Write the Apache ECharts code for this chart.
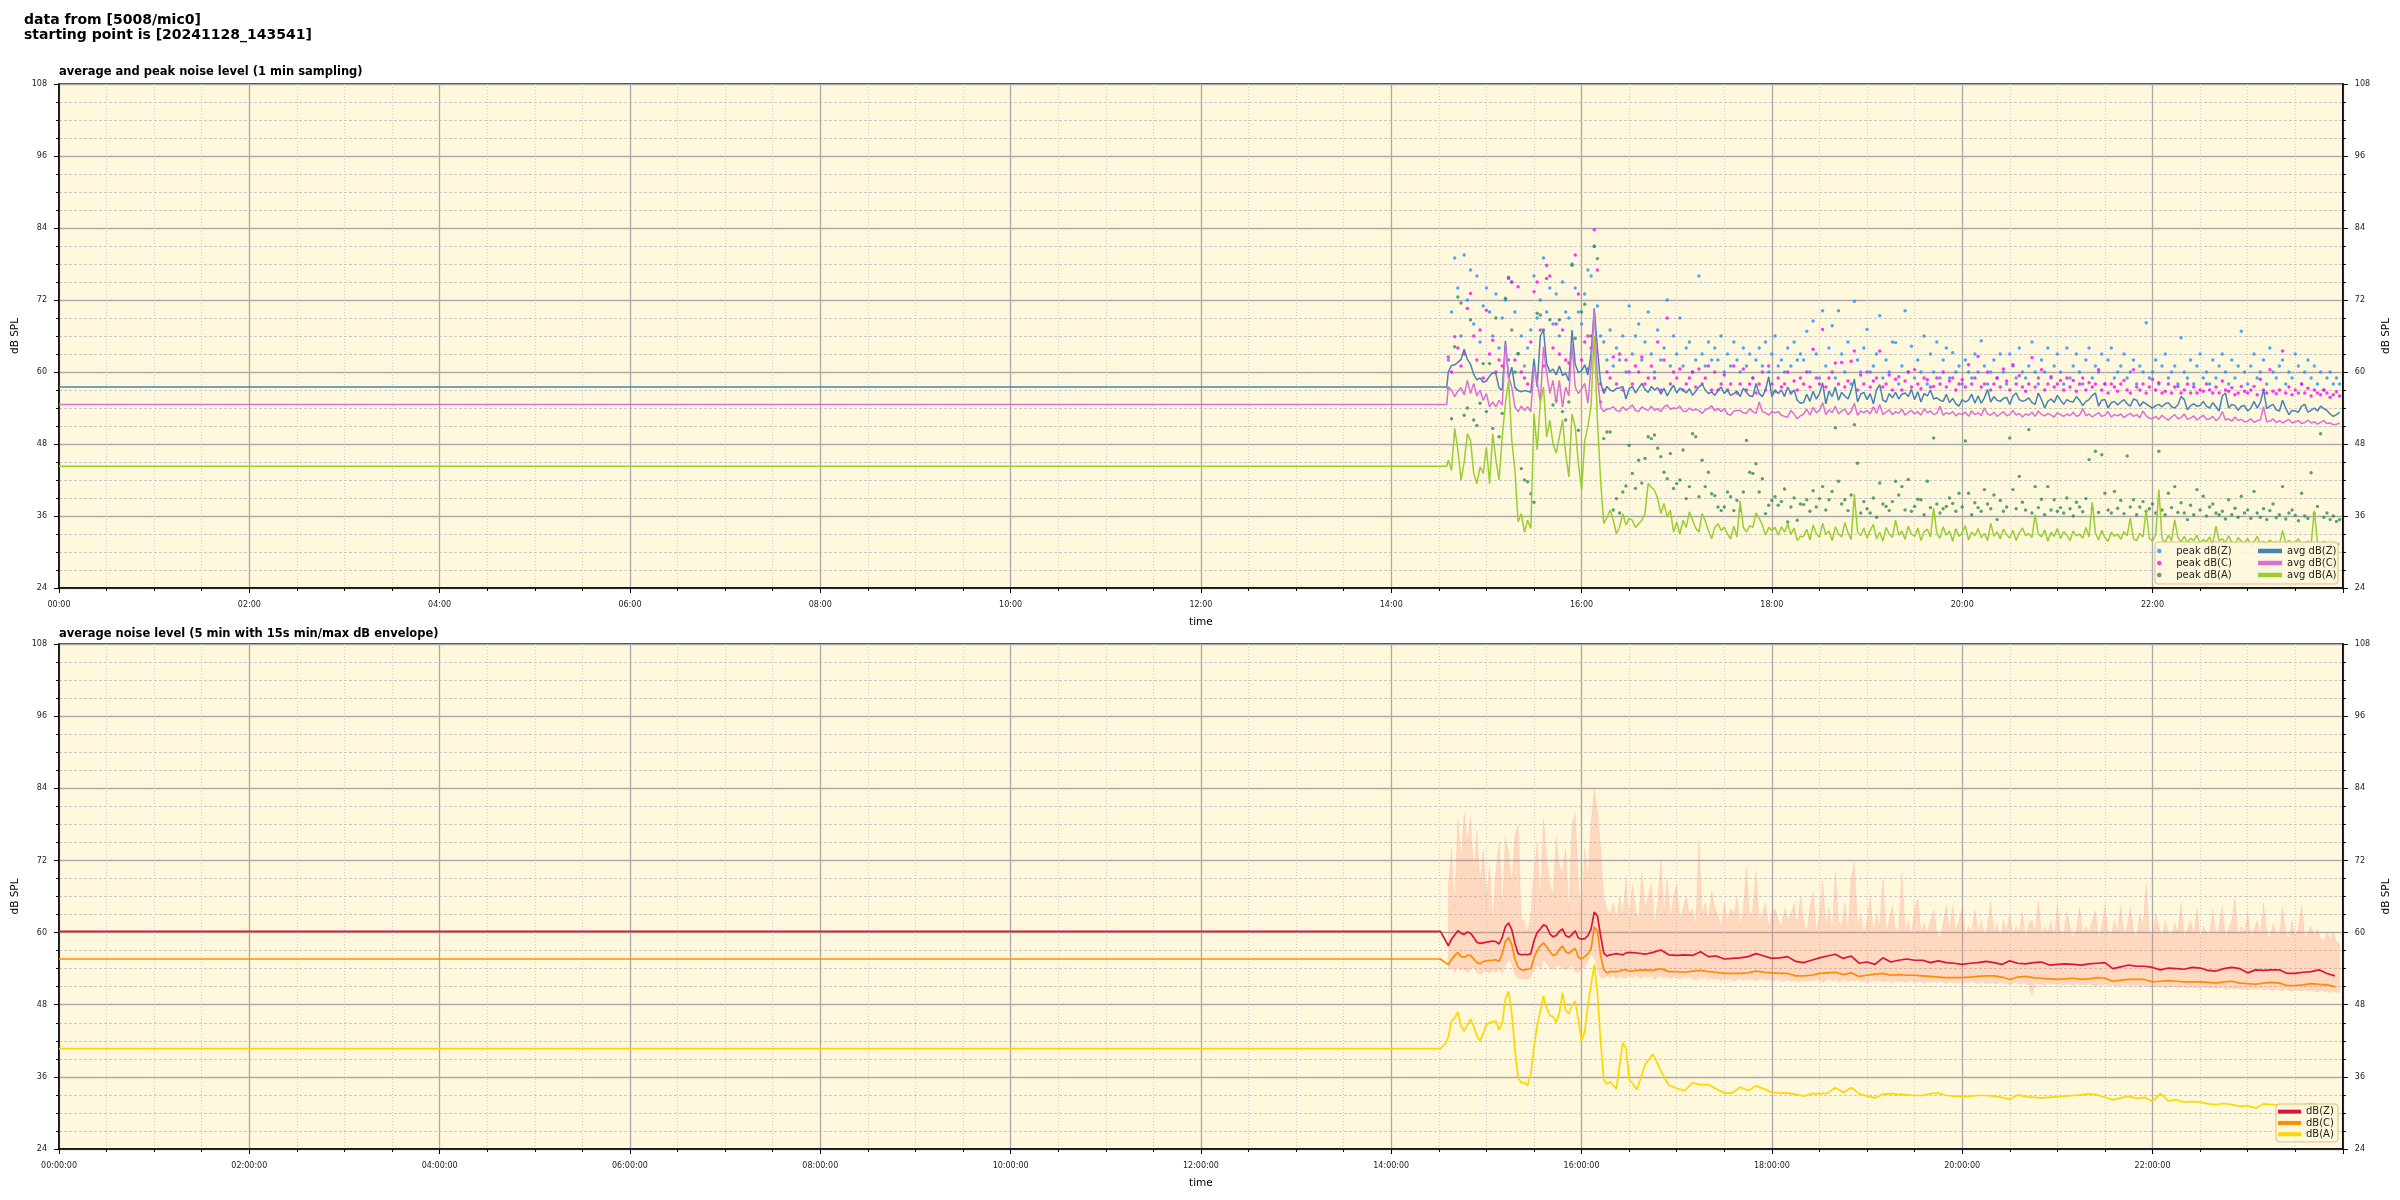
<!DOCTYPE html>
<html><head><meta charset="utf-8">
<script src="https://cdn.jsdelivr.net/npm/echarts@6/dist/echarts.min.js"></script>
<style>html,body{margin:0;padding:0;background:#fff}#c{width:2400px;height:1200px}</style>
</head><body><div id="c"></div>
<script>
// ================= DATA =================
const yTickValues = [24, 36, 48, 60, 72, 84, 96, 108];
const xTickHours = [0, 2, 4, 6, 8, 10, 12, 14, 16, 18, 20, 22];

// ---- top chart: 1-min sampling, shown every 2 min from 14:36 ----
const topFlatEnd = "14:35";
const avgZFlat = 57.5, avgCFlat = 54.6, avgAFlat = 44.3;
const topStart = "14:36";
const topStepMin = 2;

const avgZ = [
60.0,61.1,61.2,61.6,62.1,63.8,62.1,61.3,59.6,58.7,59.0,58.3,
58.5,59.3,59.9,59.7,57.3,57.0,65.2,58.9,60.8,57.4,56.9,56.7,
56.9,56.8,56.6,62.2,57.5,66.0,67.0,61.4,60.0,60.5,59.5,61.0,
59.4,59.8,58.5,67.0,61.3,59.9,60.2,61.2,59.5,63.0,70.6,64.0,
58.2,56.4,57.6,57.0,56.8,57.3,57.3,57.6,55.5,57.2,57.6,56.5,
57.3,58.1,57.1,56.6,57.6,57.0,57.4,56.3,57.3,56.0,57.0,57.8,
56.5,57.3,57.0,56.5,57.2,56.1,56.8,57.5,58.0,57.0,56.4,56.7,
56.1,56.9,57.5,56.4,57.0,56.1,56.4,56.8,55.9,57.3,56.6,56.0,
55.9,58.1,56.4,55.9,57.0,59.2,55.9,57.0,56.4,57.0,55.9,57.5,56.4,57.0,55.3,54.8,
54.9,56.3,55.1,56.8,55.5,56.4,58.2,54.7,56.8,55.9,
57.5,55.3,56.6,56.0,55.5,56.9,58.8,55.0,56.3,56.6,
55.4,56.4,54.7,57.0,57.9,55.3,55.0,56.4,55.7,56.6,
55.5,56.3,56.5,55.9,57.1,55.4,56.7,55.0,56.4,56.0,
57.0,55.5,55.7,55.3,55.1,56.3,54.9,55.6,54.7,54.3,
55.4,55.0,55.3,56.3,54.8,56.0,54.8,55.7,57.1,55.0,
55.9,55.3,55.1,55.6,55.8,54.6,56.0,56.5,55.4,55.1,
55.3,55.7,54.9,54.6,56.5,55.4,54.0,55.1,55.5,54.9,
56.1,55.3,54.6,55.4,55.1,55.0,55.9,55.3,54.4,55.1,
55.4,56.1,56.5,54.3,55.3,55.4,54.0,54.9,55.1,54.5,
55.0,55.4,54.7,54.3,55.5,55.3,54.3,55.0,54.7,54.3,
54.0,54.4,54.6,54.2,54.7,54.9,54.2,54.0,54.5,55.9,
55.4,53.7,54.4,54.7,54.3,54.4,55.1,54.3,54.0,54.9,
54.2,53.5,56.0,56.5,54.0,54.6,54.4,53.6,54.3,54.4,
53.5,54.0,55.1,54.0,54.9,57.1,53.9,54.3,54.6,53.7,
53.5,55.3,54.0,52.9,53.6,53.5,53.3,54.3,54.6,53.3,
53.6,54.0,53.5,54.3,53.9,53.6,53.0,52.6,52.9,53.3
];
const avgC = [
57.5,57.0,55.9,56.8,57.4,56.2,58.6,56.4,58.1,56.0,57.0,55.3,
56.4,54.2,55.0,54.2,55.3,54.5,64.8,59.2,57.5,54.2,53.4,54.3,
53.6,54.2,53.4,60.9,58.4,55.0,64.2,59.8,56.4,58.6,54.8,58.6,
54.2,57.5,56.0,64.8,57.5,56.4,57.2,58.1,54.8,60.9,70.3,59.2,
54.2,53.4,53.8,53.9,54.2,53.6,53.4,54.2,53.6,54.0,54.5,53.6,
53.4,54.2,53.8,53.6,54.3,53.6,53.9,53.4,54.2,54.5,53.8,54.0,
53.9,54.3,53.5,53.4,54.0,53.6,53.8,53.6,53.1,53.7,53.9,54.4,
53.5,53.9,53.4,53.9,53.0,52.8,53.5,53.6,53.6,53.2,53.1,53.9,
53.4,53.1,55.0,53.4,53.2,52.8,53.4,53.2,53.4,52.8,52.6,52.5,53.6,53.0,52.2,52.7,
53.0,53.8,52.8,54.1,53.2,53.6,54.9,52.9,53.7,53.2,
54.3,53.0,53.5,53.8,52.9,53.4,54.8,52.8,53.5,53.2,
53.6,53.0,54.2,53.1,54.6,52.9,53.3,53.7,52.9,53.4,
53.1,53.8,52.8,53.3,53.6,53.0,53.4,52.8,53.9,53.2,
53.5,52.9,53.1,54.3,52.8,53.2,53.0,53.4,52.7,53.1,
52.9,53.3,52.6,53.5,52.9,53.2,52.7,54.0,53.0,52.8,
53.3,52.6,53.0,53.4,52.7,52.9,53.6,52.8,53.1,52.5,
53.0,52.8,53.3,52.6,53.5,52.9,52.7,53.1,52.8,52.5,
53.2,52.9,52.6,53.0,52.7,53.3,52.6,52.8,53.9,52.7,
53.0,52.5,52.9,53.2,52.6,52.8,53.4,52.5,52.9,52.7,
53.0,52.4,52.8,53.1,52.6,52.9,52.4,53.5,52.7,52.3,
52.2,52.6,52.1,52.8,52.3,52.0,52.5,52.9,52.2,52.4,
53.0,52.1,52.3,52.7,52.0,52.4,52.8,52.1,52.2,52.6,
51.9,52.3,53.4,52.0,52.2,51.8,52.5,51.9,52.1,51.7,
51.8,52.2,51.6,51.9,52.0,54.2,51.7,51.8,52.2,51.6,
51.9,51.5,51.8,52.1,51.5,51.7,51.9,51.4,51.6,52.0,
51.5,51.7,51.3,51.6,51.9,51.4,51.5,51.2,51.3,51.5
];
const avgA = [
45.3,43.6,50.6,47.0,42.0,45.0,49.7,48.6,43.1,41.4,44.2,43.1,
47.5,41.4,49.7,45.3,42.0,49.2,54.8,58.6,48.6,43.6,35.0,36.4,
33.3,35.3,33.9,53.1,47.0,55.0,57.5,49.2,52.0,48.0,46.5,49.2,
52.0,46.4,42.5,53.0,50.9,44.7,40.3,48.6,50.9,54.5,66.0,52.0,
42.0,34.7,35.8,37.0,35.3,33.0,34.2,36.4,34.5,35.6,35.3,34.1,
34.7,35.3,36.4,41.4,40.8,40.3,38.9,36.4,38.1,35.8,37.0,33.3,
35.0,33.0,35.3,34.1,36.7,35.3,34.0,33.3,36.4,35.2,33.6,32.2,
34.1,34.7,33.6,34.1,33.0,32.2,34.3,32.5,38.5,34.1,33.3,34.4,
34.1,36.5,35.6,34.5,32.8,34.1,33.6,34.1,32.8,34.2,33.3,34.7,32.9,34.0,31.9,32.6,
32.6,33.8,32.0,34.5,33.1,32.4,34.8,32.9,33.5,31.9,
34.2,33.0,32.5,34.9,33.2,32.1,39.6,33.4,32.7,34.0,
32.3,33.6,34.6,32.2,33.3,31.8,34.1,33.0,32.4,35.3,
32.8,33.5,32.1,34.3,33.0,32.6,34.0,31.9,33.4,33.8,
32.5,37.3,33.1,32.3,34.2,32.8,33.5,31.8,33.9,32.6,
33.2,34.4,32.0,33.3,32.7,33.9,32.4,33.1,31.9,34.8,
32.6,33.4,32.2,33.8,32.9,32.3,33.6,31.9,33.2,34.0,
32.7,33.1,32.4,36.2,33.0,32.5,33.7,31.8,33.3,32.6,
33.9,32.2,33.4,32.8,31.9,33.5,32.7,33.0,32.3,34.1,
32.5,38.3,33.2,32.0,33.6,32.4,31.8,33.3,32.6,33.0,
32.1,33.4,32.7,35.7,32.2,31.9,33.1,32.5,37.0,32.3,
31.8,32.9,40.4,32.2,31.6,32.8,31.9,35.4,32.4,31.7,
32.6,31.5,32.3,31.9,32.8,31.4,32.1,31.7,32.5,31.3,
34.3,31.9,32.2,31.5,32.7,31.6,31.2,32.4,31.8,31.4,
32.3,31.1,31.7,32.6,31.3,31.8,31.2,32.0,31.5,31.7,
31.2,33.6,31.4,31.9,31.3,31.6,32.2,31.1,31.5,31.8,
31.2,36.9,31.6,31.0,31.8,31.3,31.1,31.6,31.4,31.3
];
const peakZ = [
62,70,79,74,66,79.5,72,77,68,76,65,71,
74,70,66,73,64,69,72,62,75,70,63,66,
61,64,67,76,69,72,79,70,74,68,73,66,
75,70,69,78,74,70,68,73,77,76,81,71,
66,65,62,67,61,64,62,66,60,71,63,66,
68,62,65,70,63,60,67,62,64,72,61,66,
63,69,61,64,65,60,62,76,63,61,65,62,
64,62,66,60,63,61,65,62,60,64,61,63,
59,62,64,61,65,60,63,66,61,62,60,64,61,65,62,63,
62,66.8,60,68.5,63,59,70.2,61,64,67.7,
59,70.2,63,60,65,58,71.8,62,60,64,
67.1,60,61,63,69.4,59,62,60,65,64.9,
58,61,70.2,60,64.3,59,62,60,66,58,
63,60,65,59,62,64,59,63.2,60,61,
58,62,60,59,63,60,65.2,61,58,60,
62,59,63,60,58,63,61,59,64,60,
59,61,65,60,58,62,60,64,59,61,
63,60,58,64,59,61,63,60,58,62,
64,59,61,60,63,58,62,64,59,60,
61,63,59,60,62,58,61,60,68.2,59,
60,62,58,61,63,59,60,61,58,65.7,
60,59,62,58,61,63,59,60,58,62,
59,61,63,60,58,62,59,61,66.8,60,
58,61,63,59,60,62,58,64,60,59,
61,62,58,60,59,63,61,58,60,62,
59,61,58,60,57,59,60,58,59,58
];
const peakC = [
62.5,60,65.9,64,61,63,70.6,73.1,66,62,67,59,
70.3,63,65.3,60,62,61,64,75.8,75,62,74.2,60,
59,58,65,73.4,75,67,61,77.8,76,64,68,63,
67,62,61.5,63,79.5,73,62,65,66,64,83.7,77,
58,57,60,59,62.5,58,63,57,62,60,58,61,
60,62.5,58,59,61,59,65,57,62,69,58,60,
59,60.5,57,58,59,60,57.5,60.5,58,59,61,57,
60,57,58,59.5,57,58,61,56.5,58,60.5,57,58,
59,56.5,58,60,57,61,58,56.8,59,57.5,58,60,56.5,58.5,57,59,
58,60,57.5,63.8,59,58,67.1,57.5,59,60,
61.5,58,61.6,57.5,58.5,61.8,63.5,57,59.5,58,
60,57.5,58.5,59,63.5,57.5,58,59.5,57,58.8,
59.2,57,58.5,60,57.5,60.4,58,57.2,59,58.7,
57.5,57.6,59,58,60,57.5,58.5,59,57,58,
58.7,57.5,61.2,58,59,62.6,57.5,58,60,57,
58,59,57.5,60.5,58.5,57,61.2,58,59.4,57.5,
56.8,58,62.4,57.5,59,60.4,57,58,59.2,57.5,
58,58.6,57,59,57.5,58.6,56.8,58,59,57,
58.2,57.5,58,60.4,57,58,56.5,58,57.5,56.8,
58,58.6,57,56.5,60.4,57.5,57,58,56.5,57.5,
58.8,57,58.2,56.5,56.8,58,56.5,57.5,57.6,56.5,
57,58,56.5,57.5,56.5,57,56.8,58,57,56.5,
57.5,56.5,58.5,57,56.8,57.4,56.2,56.5,57.6,56.8,
56.5,57,57.6,56.2,58.8,57,56.5,60.4,56.8,56.4,
57,63.5,56.5,57.5,56.2,57,56.5,58,56.5,57.3,
56,57,56.5,56.2,57,56.5,55.8,56.2,56.7,56
];
const peakA = [
57.3,52.2,64.2,72.5,71.5,52.8,54.0,68.7,52.0,51.1,54.8,61.4,
53.4,61.4,50.6,69.0,49.2,53.1,72.3,75.6,67.0,60.0,63.1,43.9,
42.0,41.7,39.7,38.3,69.8,69.5,67.0,75.6,68.7,54.5,55.3,68.7,
53.4,52.0,55.0,77.8,65.6,50.3,70.0,71.3,60.5,66.0,80.9,78.9,
55.0,48.9,50.0,50.0,37.0,38.9,36.5,40.0,41.0,47.8,43.1,40.6,
45.3,41.5,45.6,49.2,48.9,49.5,47.3,45.9,43.3,42.2,46.4,40.6,
41.4,42.0,47.0,38.9,40.9,49.7,49.2,39.2,45.3,40.9,43.3,39.7,
39.4,37.5,36.9,37.5,40.0,39.2,36.9,38.6,36.9,40.0,48.6,43.3,
43.1,44.7,40.0,42.2,36.4,37.8,38.6,39.2,37.8,38.4,40.5,35.0,37.5,39.0,35.3,38.0,
37.9,38.7,36.8,40.2,37.5,38.9,40.9,37.0,38.7,40.1,
50.7,41.8,38.0,38.7,36.9,39.5,51.2,44.8,36.5,38.4,
37.2,36.5,39.0,35.8,41.5,38.0,37.6,36.9,38.4,41.8,
39.5,40.9,37.0,42.1,36.8,37.6,38.8,38.7,36.2,41.8,
37.4,49.0,38.0,36.5,37.2,37.6,39.0,38.1,36.8,39.8,
37.5,48.5,39.8,36.2,38.2,37.4,36.8,40.4,38.0,37.2,
39.5,35.4,38.6,36.8,37.5,49.0,40.4,37.2,42.6,38.3,
37.0,50.4,36.5,40.9,37.4,38.8,36.2,40.9,37.0,38.7,
36.8,37.4,36.5,39.0,37.2,36.0,38.3,37.5,36.7,38.9,
45.4,37.2,46.8,36.6,46.2,39.8,37.0,36.5,40.1,37.3,
38.6,36.4,46.0,37.5,38.7,36.2,37.5,38.4,36.8,37.2,
38.0,36.5,46.8,37.0,36.2,39.8,37.4,40.9,36.6,38.2,
36.5,35.4,37.8,36.2,40.4,37.0,39.3,36.0,37.5,38.0,
36.5,36.2,36.8,35.5,38.7,36.2,37.3,35.8,39.3,36.5,
37.0,35.6,40.1,36.5,35.8,37.2,35.4,36.9,38.0,35.7,
36.2,40.9,35.5,36.5,37.0,36.1,35.2,39.8,36.0,35.6,
43.2,36.4,37.6,49.7,35.8,36.5,35.4,36.0,35.1,35.4
];

// ---- bottom chart: 5-min average lines ----
const botFlatEnd = "14:31";
const botZFlat = 60.2, botCFlat = 55.6, botAFlat = 40.7;
const botSeg1Start = "14:32", botSeg1StepMin = 2, botSeg1Count = 60;
const botSeg2Start = "16:35", botSeg2StepMin = 5;
const botZ = [
60.0,58.8,57.8,58.9,59.6,60.3,59.9,59.7,60.1,59.9,
59.2,58.4,58.2,58.3,58.4,58.5,58.6,58.5,58.1,59.2,
61.0,61.6,60.5,58.2,56.5,56.3,56.4,56.3,56.5,58.6,
60.0,60.6,61.3,61.0,59.8,59.3,59.5,60.2,60.6,59.5,
59.2,59.7,60.3,59.1,58.9,59.0,59.5,60.6,63.4,62.8,
59.5,56.6,56.1,56.3,56.4,56.5,56.4,56.3,56.6,56.7,
56.6,56.4,56.7,57.1,56.3,56.2,56.3,56.2,56.8,56.0,56.1,55.6,55.7,55.8,56.0,56.5,56.1,55.7,55.8,56.0,55.2,55.0,
55.4,55.8,56.1,56.4,55.7,56.1,54.9,55.1,54.7,55.8,
55.1,55.4,55.6,55.4,55.4,55.0,55.3,55.0,54.9,54.7,
54.9,55.0,55.2,55.0,54.7,55.3,54.9,54.8,55.0,55.1,
54.6,54.7,54.8,54.7,54.6,54.8,54.9,55.0,54.0,54.3,
54.6,54.4,54.4,54.2,53.8,54.1,54.0,53.9,54.2,54.1,
53.7,53.6,54.0,54.2,54.0,53.3,53.8,53.7,53.8,53.8,
53.2,53.2,53.4,53.5,53.8,53.2,52.8
];
const botC = [
55.5,55.0,54.7,55.5,56.2,56.7,56.0,55.9,56.2,56.2,
55.6,55.0,54.8,55.2,55.3,55.4,55.4,55.5,55.2,56.5,
58.5,59.2,58.0,55.6,54.2,53.8,53.8,53.9,54.0,55.8,
57.0,57.8,58.3,57.6,56.8,56.2,56.4,57.2,57.8,56.8,
56.5,57.0,57.4,55.9,55.6,56.0,56.5,57.3,60.9,60.3,
56.2,53.8,53.3,53.5,53.5,53.5,53.6,53.8,53.8,53.6,
53.7,53.8,53.7,54.0,53.5,53.5,53.4,53.6,53.7,53.5,53.4,53.2,53.2,53.2,53.3,53.6,53.4,53.3,53.2,53.2,52.8,52.8,
52.9,53.2,53.3,53.4,53.0,53.3,52.7,52.9,53.1,53.2,
52.9,53.0,52.9,52.9,52.8,52.7,52.6,52.5,52.5,52.5,
52.6,52.7,52.8,52.8,52.6,52.2,52.6,52.7,52.5,52.4,
52.3,52.2,52.3,52.4,52.2,52.3,52.5,52.4,51.9,52.1,
52.2,52.2,52.2,51.8,51.9,52.0,51.9,51.8,51.8,51.8,
51.7,51.6,51.8,51.9,51.6,51.5,51.4,51.6,51.7,51.6,
51.2,51.2,51.3,51.5,51.4,51.3,51.0
];
const botA = [
40.7,41.5,42.6,45.3,45.8,46.8,44.5,43.6,44.6,45.6,
44.4,42.8,42.0,43.2,44.7,45.0,45.1,45.3,43.8,45.0,
49.0,50.2,46.5,40.5,36.0,35.0,35.0,34.6,36.5,41.0,
44.5,47.0,49.4,47.5,46.2,46.0,45.1,46.6,50.0,47.0,
46.5,48.0,48.6,45.5,42.0,43.5,48.0,51.2,54.7,50.0,
42.0,35.5,34.8,35.2,34.6,34.0,38.0,41.7,40.8,35.6,
33.9,38.0,39.8,37.0,34.6,34.1,33.7,35.0,34.7,34.7,34.0,33.3,33.3,34.3,33.7,34.5,34.0,33.4,33.3,33.3,33.1,32.8,
33.2,33.2,33.3,34.2,33.4,34.2,33.2,32.8,32.5,33.1,
33.2,33.1,33.0,32.9,32.9,33.2,33.3,32.9,32.8,32.7,
32.8,32.9,32.9,32.8,32.6,32.3,33.0,32.7,32.6,32.5,
32.6,32.7,32.8,32.9,33.0,33.2,33.0,32.6,32.2,32.5,
32.8,32.4,32.6,31.9,33.2,32.0,32.2,31.8,31.9,31.8,
31.5,31.4,31.6,31.4,31.1,31.2,30.8,31.5,31.4,31.3,
31.2,31.1,31.3,31.6,31.2,30.7,30.5
];

// ---- bottom chart: 15 s min/max envelope (same 2-min grid as the top chart) ----
const envMax = [
68,74,64,79,72,80,75,79,70,77,68,74,
66,71,62,70,75,64,76,73,68,76,78,62,
62,60,63,70,75,65,79,72,68,66,76,71,
70,74,63,78,80,68,63,74,69,78,84,80,
74,66,64,63,65,62,66,63,69,62,68,64,
62,70,64,66,68,61,65,72,63,69,62,66,
68,62,64,66,63,64,61,75.5,63,65,62,67,
64,63,61,65,62,64,63,66,61,64,71,62,
64,70,62,63,65,61,63,64,62,61,64,62,63,65,61,66,
62,60,64,66.7,60,63,68.6,61,64,60,
70.3,62,61,65,60,69,71.7,61,63,59.5,
62,66,60,63,61,69.2,60,62,64.5,60,
61,70,60,62,59.5,64,65.6,60,61.5,60,
62,63.7,60,59,61.5,64.5,60,64.5,60,62,
64.2,59.5,61,60,63.7,60,62,59.5,61,65.2,
60,61.5,59,62,60,63.3,59.5,61,60,63.6,
59,61.5,62,60,65.3,59.5,61,60,62,59,
64.5,60,59.5,63.5,61,59,60.5,64.3,59.5,61,
60,62,63.6,59,61,64.6,60,59.5,62,60,
64.5,59.5,61,64.2,60,59,63,61,68.1,60,
59.5,63,61,59,62,60,59.5,61.5,60,65,
59,60.5,62,59.5,64,59,61,60,59.5,63.8,
59.5,61,64.3,59,60.5,62,65.8,59.5,61,60,
63.5,59,60.5,62,59.5,65,60,59,61.5,60,
59.5,64.3,60,59,62,59.5,60.5,64.5,59,60,
61,59.5,60.5,59,58.5,60,59,60,58.5,58
];
const envMin = [
53.8,54.2,53.5,54.4,53.6,54.0,53.3,53.9,54.2,53.4,53.0,53.5,
53.6,53.2,53.8,53.4,53.9,53.1,54.6,55.5,54.8,53.0,52.5,52.3,
52.4,52.2,52.6,53.8,54.6,54.0,55.5,54.8,54.2,53.8,54.3,54.6,
54.0,53.8,54.2,54.5,53.5,53.4,53.9,54.2,55.0,56.5,55.8,53.8,
52.6,52.4,52.8,52.5,52.9,52.3,52.7,52.6,52.4,52.8,52.5,52.9,
52.6,52.3,52.8,52.5,52.9,52.2,52.6,52.8,52.4,52.7,52.3,52.6,
52.5,52.2,52.6,52.4,52.7,52.3,52.0,52.5,52.4,52.6,52.1,52.5,
52.2,52.4,51.9,52.3,52.1,52.4,51.8,52.2,52.3,52.0,52.4,52.1,
52.3,51.9,52.2,52.5,52.0,52.3,51.8,52.1,52.2,51.9,52.0,52.2,51.8,52.1,51.7,51.9,
52.0,51.8,52.2,51.9,52.3,52.1,51.7,52.0,52.4,51.9,
52.2,51.8,52.0,52.3,51.7,52.1,51.9,52.2,51.8,52.0,
51.6,51.9,52.1,51.8,52.2,51.7,52.0,51.9,51.6,52.1,
51.8,52.0,51.7,51.9,52.1,51.6,51.9,51.8,51.5,51.9,
51.7,51.9,51.6,52.0,51.8,51.5,51.9,51.7,51.6,51.8,
51.5,51.8,51.6,51.9,51.7,51.4,51.8,51.6,51.5,51.7,
51.6,51.4,51.8,51.5,51.7,51.3,51.6,51.8,51.4,51.6,
51.5,51.3,49.5,51.6,51.4,51.5,51.2,51.6,51.4,51.5,
51.3,51.5,51.2,51.6,51.4,51.1,51.5,51.3,51.4,51.2,
51.5,51.3,51.0,51.4,51.2,51.5,51.1,51.3,51.2,51.0,
51.3,51.1,51.4,51.0,51.2,51.3,50.9,51.2,51.1,51.0,
50.8,51.1,50.9,51.2,50.8,51.0,50.9,51.1,50.7,51.0,
50.9,50.7,51.0,50.8,50.9,50.6,50.9,50.8,50.7,50.9,
50.6,50.8,50.9,50.5,50.8,50.7,50.6,50.8,50.5,50.7,
50.4,50.7,50.6,50.5,50.8,50.4,50.6,50.5,50.3,50.6,
50.5,50.3,50.6,50.4,50.2,50.5,50.4,50.3,50.5,50.2,
50.4,50.3,50.1,50.4,50.2,50.3,50.0,50.2,50.1,50.0
];

// ================= BUILD =================
const FONT = 'DejaVu Sans';
const hm = s => { const p = s.split(':').map(Number); return p[0] + p[1] / 60; };
const pad = n => String(n).padStart(2, '0');

const topX = avgZ.map((_, i) => hm(topStart) + i * topStepMin / 60);
const botX = botZ.map((_, i) => i < botSeg1Count
  ? hm(botSeg1Start) + i * botSeg1StepMin / 60
  : hm(botSeg2Start) + (i - botSeg1Count) * botSeg2StepMin / 60);

const withFlat = (flat, flatEnd, xs, vals) =>
  [[0, flat], [hm(flatEnd), flat]].concat(vals.map((v, i) => [xs[i], v]));
const pts = (xs, vals) => vals.map((v, i) => [xs[i], v]);

const C = {
  peakZ: '#1E90FF', peakC: '#FF00FF', peakA: '#2E8B57',
  avgZ: '#4682B4', avgC: '#DA70D6', avgA: '#9ACD32',
  botZ: '#DC143C', botC: '#FF8C00', botA: '#FFD700'
};

function xAxis(gi, bottom) {
  return {
    type: 'value', gridIndex: gi, min: 0, max: 24, interval: 2,
    name: 'time', nameLocation: 'middle', nameGap: 29,
    nameTextStyle: { fontSize: 10.5, color: '#000', fontFamily: FONT },
    axisLine: { onZero: false, lineStyle: { color: '#000', width: 1.5 } },
    axisTick: { length: 5, lineStyle: { color: '#000', width: 1 } },
    minorTick: { show: true, splitNumber: 4, length: 3, lineStyle: { color: '#000', width: 1 } },
    axisLabel: {
      fontSize: 8, color: '#222', margin: 13, fontFamily: FONT,
      formatter: v => (xTickHours.indexOf(v) >= 0) ? (pad(v) + (bottom ? ':00:00' : ':00')) : ''
    },
    splitLine: { show: true, lineStyle: { color: '#aaaaaa', width: 1.3 } },
    minorSplitLine: { show: true, lineStyle: { color: '#cccccc', width: 1, type: [1, 2] } }
  };
}
function yAxis(gi, pos) {
  const left = pos === 'left';
  return {
    type: 'value', gridIndex: gi, position: pos, min: yTickValues[0], max: yTickValues[yTickValues.length - 1], interval: 12,
    name: 'dB SPL', nameLocation: 'middle', nameRotate: 90, nameGap: left ? 27 : 29,
    nameTextStyle: { fontSize: 10.5, color: '#000', fontFamily: FONT },
    axisLine: { show: true, onZero: false, lineStyle: { color: '#000', width: 1.5 } },
    axisTick: { length: 5, lineStyle: { color: '#000', width: 1 } },
    minorTick: { show: true, splitNumber: 4, length: 3, lineStyle: { color: '#000', width: 1 } },
    axisLabel: { fontSize: 8, color: '#222', margin: 12, fontFamily: FONT },
    splitLine: { show: left, lineStyle: { color: '#aaaaaa', width: 1.3 } },
    minorSplitLine: { show: left, lineStyle: { color: '#c8c8c8', width: 1, type: [3, 2] } }
  };
}

const lineS = (name, xi, yi, data, color, w) => ({
  name, type: 'line', xAxisIndex: xi, yAxisIndex: yi, data, showSymbol: false, symbol: 'none',
  lineStyle: { color, width: w }, itemStyle: { color }, z: 3
});
const scatS = (name, data, color) => ({
  name, type: 'scatter', xAxisIndex: 0, yAxisIndex: 0, data, symbol: 'circle', symbolSize: 3.4,
  itemStyle: { color }, z: 2
});

// envelope polygon (fill between min and max), drawn through the axis scales
const envSeries = {
  name: 'envelope', type: 'custom', xAxisIndex: 1, yAxisIndex: 2, silent: true, z: 1, clip: true,
  data: envMax.map((v, i) => [topX[i], envMin[i], v]),
  encode: { x: 0, y: [1, 2] },
  renderItem: (params, api) => {
    if (params.dataIndex !== 0) return { type: 'group', children: [] };
    const up = envMax.map((v, i) => api.coord([topX[i], v]));
    const dn = envMin.map((v, i) => api.coord([topX[i], v])).reverse();
    return {
      type: 'polygon',
      shape: { points: up.concat(dn) },
      style: { fill: 'rgba(250,128,114,0.27)', stroke: 'rgba(250,128,114,0.22)', lineWidth: 0.6 }
    };
  }
};

const legendText = { fontSize: 10, color: '#222', fontFamily: FONT };
const legendCommon = {
  orient: 'vertical', top: 542, itemGap: 0, itemWidth: 24, itemHeight: 4.5,
  padding: [3, 2, 3, 2], z: 12,
  textStyle: Object.assign({ lineHeight: 12 }, legendText)
};

const option = {
  animation: false,
  backgroundColor: '#ffffff',
  textStyle: { fontFamily: FONT },
  title: [
    { text: 'data from [5008/mic0]\nstarting point is [20241128_143541]', left: 24, top: 13, padding: 0,
      textStyle: { fontSize: 14, fontWeight: 'bold', lineHeight: 15, color: '#000', fontFamily: FONT } },
    { text: 'average and peak noise level (1 min sampling)', left: 59, top: 66, padding: 0,
      textStyle: { fontSize: 11.5, fontWeight: 'bold', color: '#000', fontFamily: FONT } },
    { text: 'average noise level (5 min with 15s min/max dB envelope)', left: 59, top: 628, padding: 0,
      textStyle: { fontSize: 11.5, fontWeight: 'bold', color: '#000', fontFamily: FONT } }
  ],
  graphic: [
    { type: 'rect', z: 10, silent: true, shape: { x: 2155, y: 542, width: 183, height: 42, r: 3 },
      style: { fill: 'rgba(255,248,220,0.85)', stroke: '#d9bf98', lineWidth: 1 } }
  ],
  grid: [
    { left: 59, top: 84, width: 2284, height: 504, show: true, backgroundColor: '#FFF8DC', borderColor: '#000', borderWidth: 1.5 },
    { left: 59, top: 644, width: 2284, height: 505, show: true, backgroundColor: '#FFF8DC', borderColor: '#000', borderWidth: 1.5 }
  ],
  xAxis: [xAxis(0, false), xAxis(1, true)],
  yAxis: [yAxis(0, 'left'), yAxis(0, 'right'), yAxis(1, 'left'), yAxis(1, 'right')],
  legend: [
    Object.assign({}, legendCommon, {
      left: 2155,
      data: [
        { name: 'peak dB(Z)', icon: 'circle' },
        { name: 'peak dB(C)', icon: 'circle' },
        { name: 'peak dB(A)', icon: 'circle' }
      ]
    }),
    Object.assign({}, legendCommon, {
      left: 2256,
      data: [
        { name: 'avg dB(Z)', icon: 'rect' },
        { name: 'avg dB(C)', icon: 'rect' },
        { name: 'avg dB(A)', icon: 'rect' }
      ]
    }),
    {
      orient: 'vertical', left: 2276, top: 1104, itemGap: 0, z: 12,
      itemWidth: 23, itemHeight: 4, padding: [2, 4, 2, 2],
      backgroundColor: 'rgba(255,248,220,0.85)', borderColor: '#d9bf98', borderWidth: 1, borderRadius: 3,
      textStyle: Object.assign({ lineHeight: 11.3 }, legendText),
      data: [
        { name: 'dB(Z)', icon: 'rect' },
        { name: 'dB(C)', icon: 'rect' },
        { name: 'dB(A)', icon: 'rect' }
      ]
    }
  ],
  series: [
    scatS('peak dB(Z)', pts(topX, peakZ), C.peakZ),
    scatS('peak dB(C)', pts(topX, peakC), C.peakC),
    scatS('peak dB(A)', pts(topX, peakA), C.peakA),
    lineS('avg dB(Z)', 0, 0, withFlat(avgZFlat, topFlatEnd, topX, avgZ), C.avgZ, 1.5),
    lineS('avg dB(C)', 0, 0, withFlat(avgCFlat, topFlatEnd, topX, avgC), C.avgC, 1.5),
    lineS('avg dB(A)', 0, 0, withFlat(avgAFlat, topFlatEnd, topX, avgA), C.avgA, 1.5),
    envSeries,
    lineS('dB(Z)', 1, 2, withFlat(botZFlat, botFlatEnd, botX, botZ), C.botZ, 1.7),
    lineS('dB(C)', 1, 2, withFlat(botCFlat, botFlatEnd, botX, botC), C.botC, 1.7),
    lineS('dB(A)', 1, 2, withFlat(botAFlat, botFlatEnd, botX, botA), C.botA, 1.7)
  ]
};

const chart = echarts.init(document.getElementById('c'), null, { renderer: 'canvas' });
chart.setOption(option);
</script>
</body></html>
